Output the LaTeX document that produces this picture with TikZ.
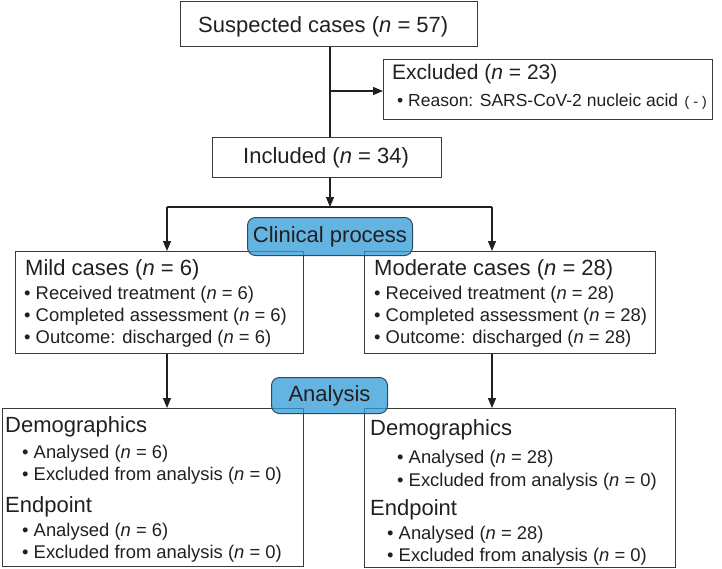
\documentclass[tikz,border=0pt]{standalone}
\usepackage{fontspec}
\setmainfont{Liberation Sans}
\newfontfamily\monofnt{Liberation Mono}
\usetikzlibrary{arrows.meta}
\definecolor{ink}{HTML}{231F20}
\definecolor{edge}{HTML}{3A3A3A}
\definecolor{tagblue}{HTML}{309BD7}
\definecolor{tagedge}{HTML}{2E4A5C}
\begin{document}
\begin{tikzpicture}[x=1pt,y=-1pt,
  box/.style={draw=edge,line width=1.2pt,inner sep=0pt,anchor=north west},
  ttl/.style={anchor=base west,inner sep=0pt,text=ink,font=\fontsize{22}{22}\selectfont},
  itm/.style={anchor=base west,inner sep=0pt,text=ink,font=\fontsize{18.4}{18.4}\selectfont},
  tag/.style={draw=tagedge,line width=1pt,fill=tagblue,fill opacity=0.75,text opacity=1,
    text=ink,rounded corners=8pt,inner sep=0pt,anchor=north west,font=\fontsize{22}{22}\selectfont},
  conn/.style={draw=ink,line width=1.3pt},
  arr/.style={conn,-{Triangle[length=10pt,width=8pt]}}]
\useasboundingbox (0,0) rectangle (722,568);

% boxes
\node[box,minimum width=297pt,minimum height=45pt] (sus) at (180,1) {};
\node[box,minimum width=329pt,minimum height=60pt] (exc) at (383,59) {};
\node[box,minimum width=229pt,minimum height=40pt] (inc) at (212,137) {};
\node[box,minimum width=288pt,minimum height=102pt] (mild) at (15,251) {};
\node[box,minimum width=291pt,minimum height=102pt] (mod) at (364,251) {};
\node[box,minimum width=301.5pt,minimum height=158pt] (ll) at (1.5,408) {};
\node[box,minimum width=311pt,minimum height=158.5pt] (lr) at (364,408) {};

% connectors
\coordinate (jn) at (330,91);
\coordinate (br) at (330,207);
\coordinate (bl) at (167,207);
\coordinate (brr) at (492,207);
\draw[conn] (sus.south -| jn) -- (inc.north -| jn);
\draw[arr] (jn) -- (exc.west |- jn);
\draw[arr] (inc.south -| jn) -- (br);
\draw[conn] (bl) -- (brr);
\draw[arr] (bl) -- (mild.north -| bl);
\draw[arr] (brr) -- (mod.north -| brr);
\draw[arr] (mild.south -| bl) -- (ll.north -| bl);
\draw[arr] (mod.south -| brr) -- (lr.north -| brr);

% stage tags
\node[tag,minimum width=165pt,minimum height=38pt] (clin) at (247,217) {Clinical process};
\node[tag,minimum width=116pt,minimum height=36pt] (anal) at (271,377) {Analysis};

% texts
\node[ttl] (tsus) at (198,32) {Suspected cases (\textit{n} = 57)};
\node[ttl,font=\fontsize{21}{21}\selectfont] (texc) at (392,79) {Excluded (\textit{n} = 23)};
\node[itm,font=\fontsize{17.5}{17.5}\selectfont] (texr) at (397,106) {\textbullet\ Reason: SARS-CoV-2 nucleic acid {\monofnt\fontsize{14}{14}\selectfont(-)}};
\node[ttl] (tinc) at (243,163) {Included (\textit{n} = 34)};

\node[ttl] (tmild) at (25,275) {Mild cases (\textit{n} = 6)};
\node[itm] (m1) at (24,299) {\textbullet\ Received treatment (\textit{n} = 6)};
\node[itm] (m2) at (24,321) {\textbullet\ Completed assessment (\textit{n} = 6)};
\node[itm] (m3) at (24,343) {\textbullet\ Outcome: discharged (\textit{n} = 6)};

\node[ttl] (tmod) at (374,275) {Moderate cases (\textit{n} = 28)};
\node[itm] (d1) at (374,299) {\textbullet\ Received treatment (\textit{n} = 28)};
\node[itm] (d2) at (374,321) {\textbullet\ Completed assessment (\textit{n} = 28)};
\node[itm] (d3) at (374,343) {\textbullet\ Outcome: discharged (\textit{n} = 28)};

\node[ttl] (ldem) at (5,432) {Demographics};
\node[itm] (l1) at (22,458) {\textbullet\ Analysed (\textit{n} = 6)};
\node[itm] (l2) at (22,480) {\textbullet\ Excluded from analysis (\textit{n} = 0)};
\node[ttl] (lend) at (5,512) {Endpoint};
\node[itm] (l3) at (22,536) {\textbullet\ Analysed (\textit{n} = 6)};
\node[itm] (l4) at (22,558) {\textbullet\ Excluded from analysis (\textit{n} = 0)};

\node[ttl] (rdem) at (370,435) {Demographics};
\node[itm] (r1) at (397,463) {\textbullet\ Analysed (\textit{n} = 28)};
\node[itm] (r2) at (397,486) {\textbullet\ Excluded from analysis (\textit{n} = 0)};
\node[ttl] (rend) at (370,515) {Endpoint};
\node[itm] (r3) at (387,539) {\textbullet\ Analysed (\textit{n} = 28)};
\node[itm] (r4) at (387,561) {\textbullet\ Excluded from analysis (\textit{n} = 0)};
\end{tikzpicture}
\end{document}
